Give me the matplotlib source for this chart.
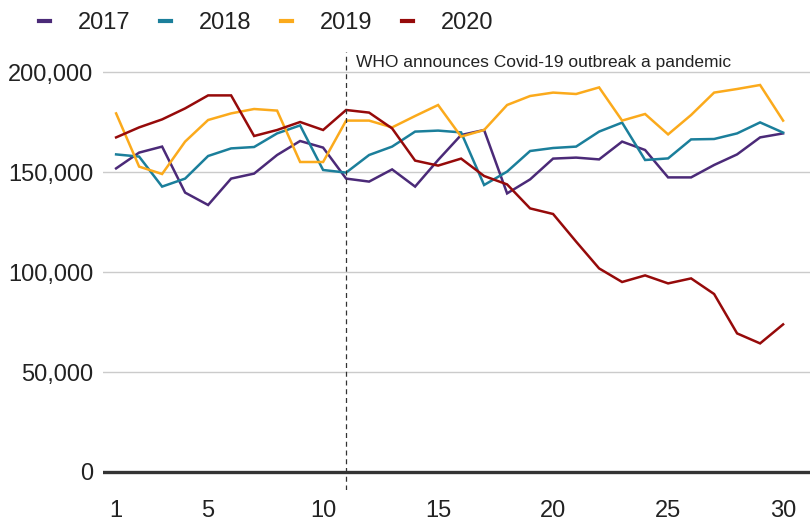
import matplotlib
matplotlib.use('Agg')
from matplotlib import pyplot as plt
from matplotlib.ticker import FuncFormatter

days = list(range(1, 31))

y2017 = [151800, 159700, 162700, 139700, 133500, 146700, 149200, 158500, 165500, 162200,
         146700, 145200, 151300, 142700, 156000, 168500, 171000, 139300, 146300, 156700,
         157200, 156300, 165200, 161000, 147300, 147300, 153500, 158800, 167300, 169300]
y2018 = [158800, 157700, 142700, 146700, 158000, 161800, 162500, 169300, 173300, 151000,
         149700, 158500, 162700, 170200, 170700, 169800, 143500, 150200, 160500, 162000,
         162700, 170200, 174700, 156000, 156800, 166300, 166500, 169300, 174800, 169700]
y2019 = [179300, 152700, 149000, 165200, 176000, 179300, 181500, 180700, 155000, 155000,
         175700, 175700, 172300, 178000, 183500, 167700, 171000, 183500, 188000, 189700,
         189000, 192300, 175700, 179000, 168800, 178500, 189700, 191500, 193500, 175700]
y2020 = [167300, 172300, 176300, 181800, 188300, 188300, 168000, 171000, 175000, 171000,
         181000, 179700, 171800, 155700, 153200, 156700, 148000, 143800, 131800, 129000,
         115200, 101800, 95000, 98300, 94300, 96800, 89000, 69300, 64300, 73800]

series = [('2017', y2017, '#4b2a78'),
          ('2018', y2018, '#1b7f9b'),
          ('2019', y2019, '#fbaa1c'),
          ('2020', y2020, '#960a0a')]

pandemic_day = 11
note = 'WHO announces Covid-19 outbreak a pandemic'

plt.rcParams['font.family'] = ['Liberation Sans', 'DejaVu Sans']
fig = plt.figure(figsize=(8.1, 5.23), dpi=100)
ax = fig.add_axes([103 / 810, 1 - 490 / 523, 1 - 103 / 810, (490 - 52) / 523])

for label, vals, col in series:
    ax.plot(days, vals, color=col, lw=1.8, label=label, solid_joinstyle='miter')

ax.axhline(0, color='#333333', lw=2.4, zorder=3)
ax.axvline(pandemic_day, color='#333333', lw=0.9, ls=(0, (4, 3)), zorder=4)
ax.text(pandemic_day + 0.45, 204500, note, fontsize=12.5, color='#222222', va='center')

ax.set_xlim(0.43, 31.17)
ax.set_ylim(-9000, 210000)
ax.set_xticks([1, 5, 10, 15, 20, 25, 30])
ax.set_yticks([0, 50000, 100000, 150000, 200000])
ax.yaxis.set_major_formatter(FuncFormatter(lambda v, p: f'{int(v):,}'))
ax.grid(axis='y', color='#cbcbcb', lw=1)
ax.grid(axis='x', visible=False)
ax.set_axisbelow(True)
for s in ax.spines.values():
    s.set_visible(False)
ax.tick_params(axis='both', length=0, labelsize=17, colors='#222222')
ax.tick_params(axis='y', pad=7)
ax.tick_params(axis='x', pad=7)

leg = fig.legend(loc='center left', bbox_to_anchor=(39 / 810, 1 - 23 / 523), ncol=4,
                 frameon=False, fontsize=17, handlelength=0.45, handletextpad=1.2,
                 columnspacing=1.25, borderpad=0, borderaxespad=0)
for h in leg.get_lines():
    h.set_linewidth(3)
for t in leg.get_texts():
    t.set_color('#222222')

fig.savefig('out.png', dpi=100)
